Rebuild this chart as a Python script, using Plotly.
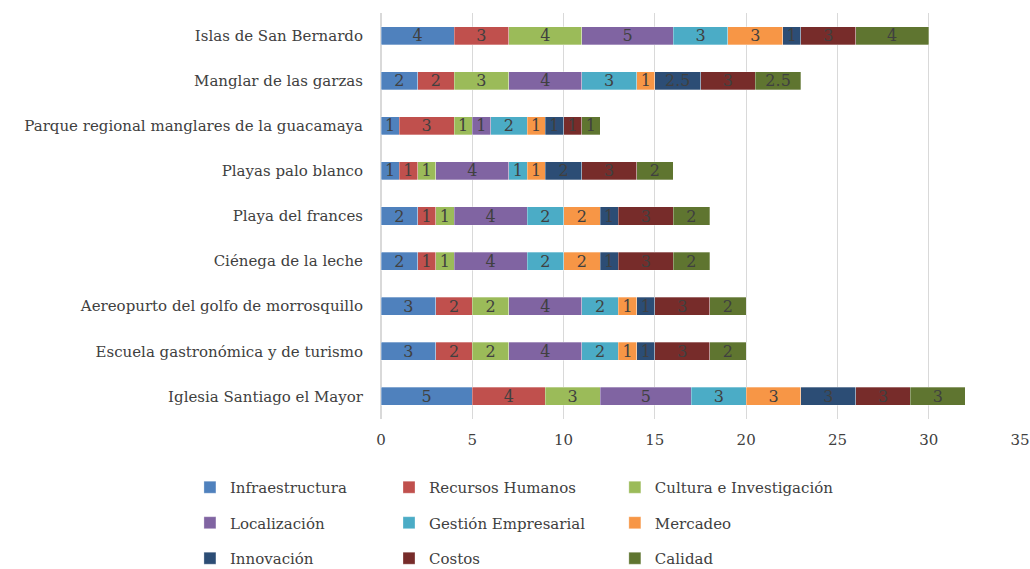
import plotly.graph_objects as go

categories = [
    "Iglesia Santiago el Mayor",
    "Escuela gastronómica y de turismo",
    "Aereopurto del golfo de morrosquillo",
    "Ciénega de la leche",
    "Playa del frances",
    "Playas palo blanco",
    "Parque regional manglares de la guacamaya",
    "Manglar de las garzas",
    "Islas de San Bernardo",
]

infraestructura = [5, 3, 3, 2, 2, 1, 1, 2, 4]
recursos_humanos = [4, 2, 2, 1, 1, 1, 3, 2, 3]
cultura = [3, 2, 2, 1, 1, 1, 1, 3, 4]
localizacion = [5, 4, 4, 4, 4, 4, 1, 4, 5]
gestion = [3, 2, 2, 2, 2, 1, 2, 3, 3]
mercadeo = [3, 1, 1, 2, 2, 1, 1, 1, 3]
innovacion = [3, 1, 1, 1, 1, 2, 1, 2.5, 1]
costos = [3, 3, 3, 3, 3, 3, 1, 3, 3]
calidad = [3, 2, 2, 2, 2, 2, 1, 2.5, 4]

series_names = ["Infraestructura", "Recursos Humanos", "Cultura e Investigación",
                "Localización", "Gestión Empresarial", "Mercadeo",
                "Innovación", "Costos", "Calidad"]
series_values = [infraestructura, recursos_humanos, cultura, localizacion, gestion,
                 mercadeo, innovacion, costos, calidad]
colors = ["#4F81BD", "#C0504D", "#9BBB59", "#8064A2", "#4BACC6", "#F79646",
          "#2C4D75", "#772C2A", "#5F7530"]
# legend columns: series index -> legend id
legend_ids = ["legend", "legend2", "legend3"] * 3

FONT = "DejaVu Serif"
TXT = "#404040"

fig = go.Figure()
for i, (name, vals, col) in enumerate(zip(series_names, series_values, colors)):
    fig.add_trace(go.Bar(
        y=categories, x=vals, name=name, orientation="h",
        marker=dict(color=col, line=dict(color="rgba(255,255,255,0.6)", width=0.5)),
        text=[f"{v:g}" for v in vals],
        textposition="inside", insidetextanchor="middle",
        textangle=0, constraintext="none",
        textfont=dict(family=FONT, size=16, color=TXT),
        legend=legend_ids[i], legendgroup=name,
    ))

legend_common = dict(
    orientation="v", traceorder="grouped", tracegroupgap=13,
    font=dict(family=FONT, size=15, color=TXT),
    bgcolor="rgba(0,0,0,0)", yanchor="top", y=-0.128,
    itemwidth=30,
)

fig.update_layout(
    width=1030, height=569,
    barmode="stack", bargap=0.6,
    plot_bgcolor="white", paper_bgcolor="white",
    margin=dict(l=381, r=10, t=13, b=150, autoexpand=False),
    font=dict(family=FONT, size=15, color=TXT),
    xaxis=dict(range=[0, 35], dtick=5, showgrid=True, gridcolor="#D9D9D9",
               gridwidth=1, zeroline=True, zerolinecolor="#D9D9D9",
               tickfont=dict(family=FONT, size=15, color=TXT),
               ticks="", ticklabelstandoff=10, automargin=False),
    yaxis=dict(showgrid=False, ticks="", ticklabelstandoff=17,
               tickfont=dict(family=FONT, size=15, color=TXT),
               showline=False, automargin=False),
    legend=dict(x=-0.299, xanchor="left", **legend_common),
    legend2=dict(x=0.0125, xanchor="left", **legend_common),
    legend3=dict(x=0.366, xanchor="left", **legend_common),
)

fig.write_html(
    "out.html",
    config={"displayModeBar": False},
    post_script="document.body.style.margin='0';document.body.style.overflow='hidden';",
)
